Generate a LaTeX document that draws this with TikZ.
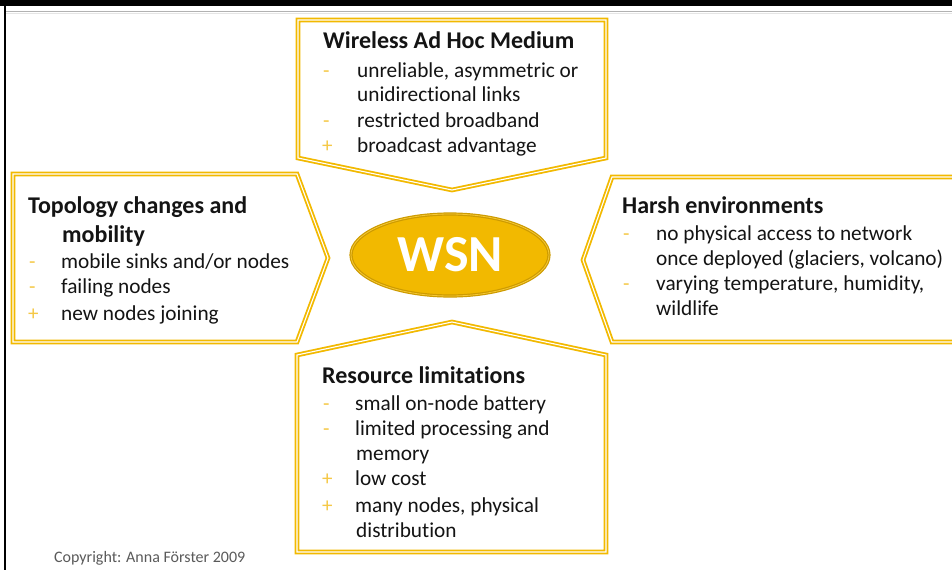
\documentclass[tikz,border=0pt]{standalone}
\usepackage{fontspec}
\setmainfont{Carlito}[Ligatures=NoCommon]
\usetikzlibrary{shapes.geometric}
\definecolor{gold}{RGB}{242,185,0}
\definecolor{golddark}{RGB}{205,155,0}
\definecolor{markc}{RGB}{245,200,70}
\definecolor{txt}{RGB}{20,20,20}
\definecolor{copyc}{RGB}{90,90,90}
\tikzset{
  panel/.style={draw=gold, line width=1.8pt, double=white, double distance=1.1pt, line join=miter},
  ttl/.style={anchor=base west, inner sep=0pt, text=txt, font=\fontsize{24}{28}\selectfont\bfseries},
  itm/.style={anchor=base west, inner sep=0pt, text=txt, font=\fontsize{21.3}{25}\selectfont},
  mrk/.style={anchor=base west, inner sep=0pt, text=markc, font=\fontsize{21}{25}\selectfont}
}
\begin{document}
\begin{tikzpicture}[x=1pt,y=-1pt]
\useasboundingbox (0,0) rectangle (952,570);
\clip (0,0) rectangle (952,570);
\fill[white] (0,0) rectangle (952,570);
% slide frame
\fill[black] (0,0) rectangle (952,6);
\fill[black] (4,6) rectangle (6,570);
\draw[gray!60, line width=1.2pt] (6,11.5) -- (952,11.5);
\draw[gray!20, line width=1pt] (6,13) -- (952,13);

% the four pointing panels
\draw[panel] (298,20) -- (606,20) -- (606,158) -- (452,190) -- (298,158) -- cycle;
\draw[panel] (13,174) -- (297,174) -- (328,258) -- (297,342) -- (13,342) -- cycle;
\draw[panel] (612,177) -- (970,177) -- (970,342) -- (612,342) -- (583,260) -- cycle;
\draw[panel] (297,355) -- (452,322) -- (606,355) -- (606,552) -- (297,552) -- cycle;

% centre
\node[ellipse, minimum width=198pt, minimum height=82pt, inner sep=0pt,
      fill=gold, draw=golddark, line width=1.2pt, double=gold!80!white, double distance=0.8pt,
      text=white, font=\fontsize{52}{54}\selectfont\bfseries] (wsn) at (450,255) {WSN};

% Wireless Ad Hoc Medium
\node[ttl] (w0) at (323,48) {Wireless Ad Hoc Medium};
\node[mrk] (wm1) at (323,77) {-};
\node[itm] (w1) at (357,77) {unreliable, asymmetric or};
\node[itm] (w2) at (357,101) {unidirectional links};
\node[mrk] (wm3) at (323,127) {-};
\node[itm] (w3) at (357,127) {restricted broadband};
\node[mrk] (wm4) at (322,152) {+};
\node[itm] (w4) at (357,152) {broadcast advantage};

% Topology changes and mobility
\node[ttl] (t0) at (28,213) {Topology changes and};
\node[ttl] (t1) at (62,242) {mobility};
\node[mrk] (tm2) at (29,268) {-};
\node[itm] (t2) at (61,268) {mobile sinks and/or nodes};
\node[mrk] (tm3) at (29,293) {-};
\node[itm] (t3) at (61,293) {failing nodes};
\node[mrk] (tm4) at (28,320) {+};
\node[itm] (t4) at (61,320) {new nodes joining};

% Harsh environments
\node[ttl] (h0) at (622,213) {Harsh environments};
\node[mrk] (hm1) at (623,240) {-};
\node[itm] (h1) at (656,240) {no physical access to network};
\node[itm] (h2) at (656,265) {once deployed (glaciers, volcano)};
\node[mrk] (hm3) at (623,290) {-};
\node[itm] (h3) at (656,290) {varying temperature, humidity,};
\node[itm] (h4) at (656,315) {wildlife};

% Resource limitations
\node[ttl] (r0) at (322,383) {Resource limitations};
\node[mrk] (rm1) at (323,410) {-};
\node[itm] (r1) at (355,410) {small on-node battery};
\node[mrk] (rm2) at (323,435) {-};
\node[itm] (r2) at (355,435) {limited processing and};
\node[itm] (r3) at (356,460) {memory};
\node[mrk] (rm4) at (322,485) {+};
\node[itm] (r4) at (355,485) {low cost};
\node[mrk] (rm5) at (322,512) {+};
\node[itm] (r5) at (355,512) {many nodes, physical};
\node[itm] (r6) at (356,537) {distribution};

\node[anchor=base west, inner sep=0pt, text=copyc, font=\fontsize{16}{18}\selectfont] (copy) at (54,562) {Copyright: Anna Förster 2009};
\end{tikzpicture}
\end{document}
